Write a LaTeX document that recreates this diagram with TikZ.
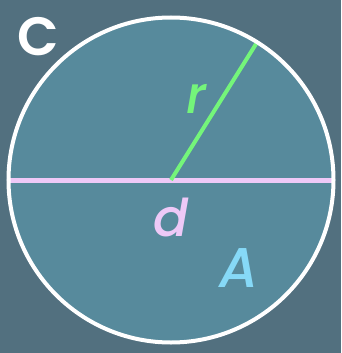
\documentclass[tikz,border=0pt]{standalone}
\usepackage{fontspec}
\setmainfont{Poppins Medium}[ItalicFont={Poppins Medium Italic}, BoldFont={Poppins SemiBold}]
\usetikzlibrary{calc}
\definecolor{cbg}{HTML}{52707F}
\definecolor{cfill}{HTML}{578A9C}
\definecolor{clav}{HTML}{EEC9F7}
\definecolor{cgreen}{HTML}{74F57A}
\definecolor{cblue}{HTML}{86D9F7}

\begin{document}
\begin{tikzpicture}[x=1pt, y=-1pt, every node/.style={inner sep=0pt}]

  % ---- Background ----
  \fill[cbg] (0,0) rectangle (341,353);
  \useasboundingbox (0,0) rectangle (341,353);

  % ---- Circle ----
  \coordinate (O) at (171,180);
  \fill[cfill] (O) circle (162.5);
  \coordinate (L) at ($(O)+(-162.5,0)$);
  \coordinate (R) at ($(O)+(162.5,0)$);
  \coordinate (P) at ($(O)+(58:160.5 and -160.5)$);

  % ---- Diameter and radius ----
  \draw[clav, line width=5pt] (L) -- (R);
  \draw[cgreen, line width=4pt] (O) -- (P);
  \draw[white, line width=4pt] (O) circle (162.5);

  % ---- Labels ----
  \node[text=white, font=\fontsize{54}{58}\selectfont\bfseries] (lblC) at (38,37) {C};
  \node[text=cgreen, font=\fontsize{52}{56}\selectfont\itshape] (lblr) at (196,99) {r};
  \node[text=clav, font=\fontsize{52}{56}\selectfont\itshape] (lbld) at (171,217) {d};
  \node[text=cblue, font=\fontsize{56}{60}\selectfont\itshape] (lblA) at (239,268) {A};

\end{tikzpicture}
\end{document}
